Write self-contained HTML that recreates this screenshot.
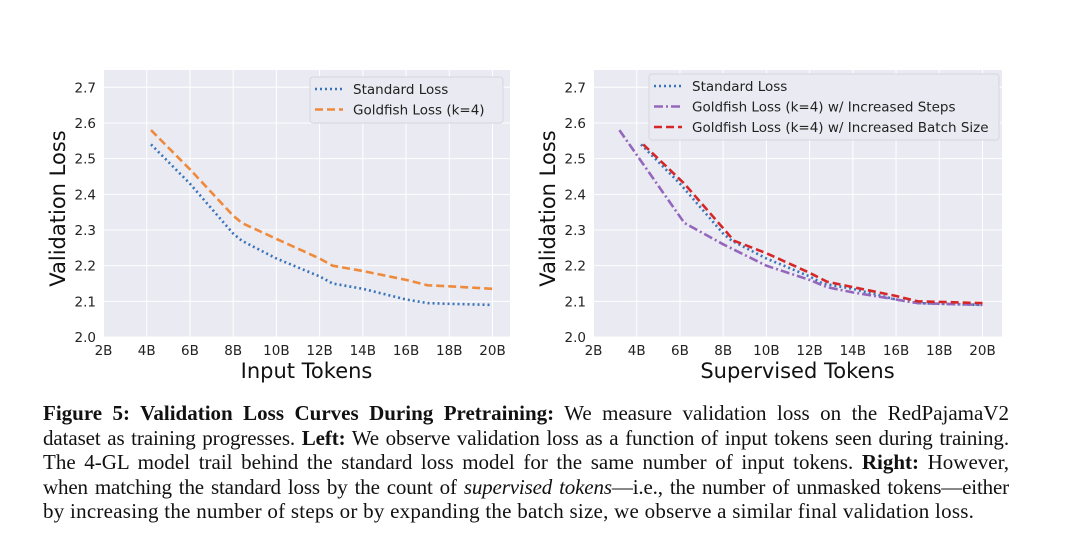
<!DOCTYPE html>
<html><head><meta charset="utf-8"><style>
body{margin:0;background:#fff;width:1080px;height:550px;overflow:hidden}
svg{position:absolute;left:0;top:0}
.cap{position:absolute;left:43px;width:966px;font-family:"Liberation Serif",serif;font-size:21px;line-height:24.6px;top:401px;color:#111}
.cap div{text-align:justify;text-align-last:justify;white-space:nowrap}
.tick{font-family:"DejaVu Sans","Liberation Sans",sans-serif;font-size:13.5px;fill:#222}
.ttl{font-family:"DejaVu Sans","Liberation Sans",sans-serif;font-size:21px;fill:#111}
.leg{font-family:"DejaVu Sans","Liberation Sans",sans-serif;font-size:13.5px;fill:#222}
</style></head><body>
<svg width="1080" height="550">
<g id="left"></g>
<g id="right"></g>
</svg>
<div class="cap">
<div><b>Figure 5: Validation Loss Curves During Pretraining:</b> We measure validation loss on the RedPajamaV2</div>
<div style="letter-spacing:-0.1px">dataset as training progresses. <b>Left:</b> We observe validation loss as a function of input tokens seen during training.</div>
<div>The 4-GL model trail behind the standard loss model for the same number of input tokens. <b>Right:</b> However,</div>
<div style="letter-spacing:-0.15px">when matching the standard loss by the count of <i>supervised tokens</i>—i.e., the number of unmasked tokens—either</div>
<div style="text-align-last:left;letter-spacing:0.25px">by increasing the number of steps or by expanding the batch size, we observe a similar final validation loss.</div>
</div>
<script>
const xTicks=[2,4,6,8,10,12,14,16,18,20];
const yTicks=[2.0,2.1,2.2,2.3,2.4,2.5,2.6,2.7];
const stdX=[4.2,6,8,8.4,10,12,12.6,14,16,17,18,20];
const stdY=[2.54,2.43,2.29,2.27,2.22,2.17,2.15,2.135,2.105,2.095,2.093,2.09];
const gfX=[4.2,6,8,8.4,10,12,12.6,14,16,17,18,20];
const gfY=[2.58,2.47,2.34,2.32,2.275,2.22,2.2,2.185,2.16,2.145,2.142,2.135];
const stepsX=[3.2,6.2,8,10,12,12.8,14,16,17,20];
const stepsY=[2.58,2.32,2.26,2.2,2.16,2.14,2.125,2.105,2.095,2.09];
const batchX=[4.3,6.2,8.5,10,12,12.8,14,16,17,20];
const batchY=[2.54,2.43,2.27,2.235,2.18,2.155,2.14,2.115,2.1,2.095];
const NS='http://www.w3.org/2000/svg';
function mk(p,t,a){const e=document.createElementNS(NS,t);for(const k in a)e.setAttribute(k,a[k]);p.appendChild(e);return e;}
function chart(g,L,R,xlabel,series,legend){
  const T=70,B=337;
  const x0=L+0.5, x20=L+389.5;
  const xs=v=>x0+(v-2)/18*(x20-x0);
  const ys=v=>B-(v-2.0)/0.7*(B-87.3);
  const bg=mk(g,'rect',{x:L,y:T,width:R-L,height:B-T,fill:'#eaeaf2'});
  
  
  xTicks.forEach(v=>{
    const l=mk(g,'line',{x1:xs(v),x2:xs(v),y1:T,y2:B,stroke:'#fff','stroke-width':1});
    
    
    const t=mk(g,'text',{x:xs(v),y:B+18,'text-anchor':'middle',class:'tick'});t.textContent=v+'B';
    
    
  });
  yTicks.forEach(v=>{
    const l=mk(g,'line',{x1:L,x2:R,y1:ys(v),y2:ys(v),stroke:'#fff','stroke-width':1});
    
    
    const t=mk(g,'text',{x:L-7,y:ys(v)+5,'text-anchor':'end',class:'tick'});t.textContent=v.toFixed(1);
    
    
  });
  series.forEach(s=>{
    const pts=s.x.map((v,i)=>xs(v).toFixed(1)+','+ys(s.y[i]).toFixed(1)).join(' ');
    const p=mk(g,'polyline',{points:pts,fill:'none',stroke:s.c,'stroke-width':s.w||2.6,'stroke-dasharray':s.d});
    
    
  });
  const lg=mk(g,'rect',{x:legend.x,y:legend.y,width:legend.w,height:legend.h,rx:3,fill:'#eaeaf2',stroke:'#d6d6de'});
  
  
  series.forEach((s,i)=>{
    const yy=legend.y+12+i*20.5;
    const l=mk(g,'line',{x1:legend.x+5,x2:legend.x+33,y1:yy,y2:yy,stroke:s.c,'stroke-width':s.w||2.6,'stroke-dasharray':s.d});
    
    
    const t=mk(g,'text',{x:legend.x+43,y:yy+5,class:'leg'});t.textContent=s.label;
    
    
  });
  const xt=mk(g,'text',{x:(L+R)/2,y:378,'text-anchor':'middle',class:'ttl'});xt.textContent=xlabel;
  
  
  const yt=mk(g,'text',{x:0,y:0,'text-anchor':'middle',class:'ttl',transform:`translate(${L-38},${(T+B)/2+5}) rotate(-90)`});yt.textContent='Validation Loss';
  
  
}
chart(document.getElementById('left'),103,510,'Input Tokens',[
 {x:stdX,y:stdY,c:'#3a74b8',d:'2,3',n:'standard-loss-line',label:'Standard Loss'},
 {x:gfX,y:gfY,c:'#ee8a3c',d:'8,4',n:'goldfish-loss-line',label:'Goldfish Loss (k=4)'}
],{x:310,y:77,w:193,h:46});
chart(document.getElementById('right'),593,1002,'Supervised Tokens',[
 {x:stdX,y:stdY,c:'#3a74b8',d:'2,3',n:'standard-loss-line',label:'Standard Loss'},
 {x:stepsX,y:stepsY,c:'#9467bd',d:'9,3,2,3',n:'goldfish-steps-line',label:'Goldfish Loss (k=4) w/ Increased Steps'},
 {x:batchX,y:batchY,c:'#d62728',d:'8,4',n:'goldfish-batch-line',label:'Goldfish Loss (k=4) w/ Increased Batch Size'}
],{x:649,y:74,w:350,h:66});
</script>
</body></html>
